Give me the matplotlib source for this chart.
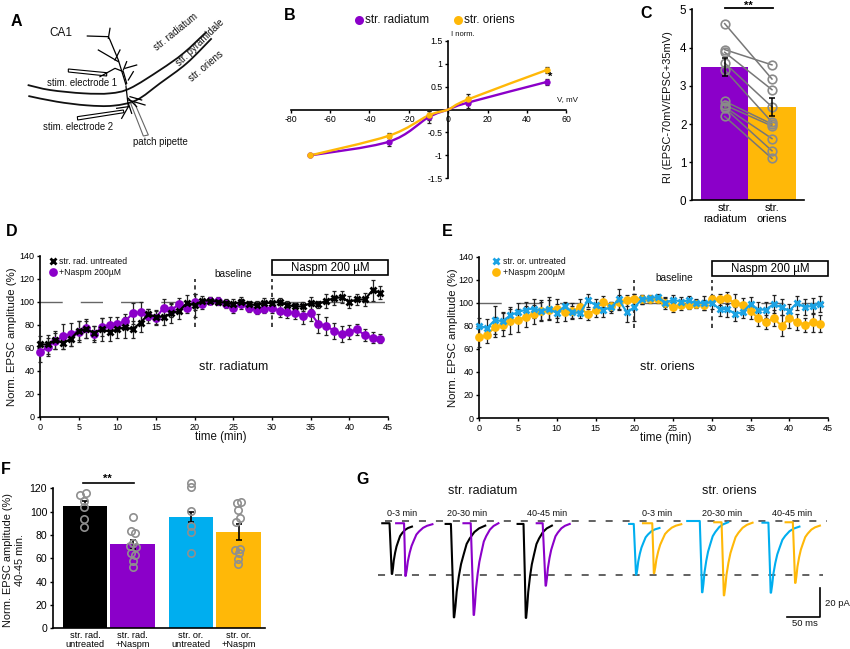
import matplotlib
matplotlib.use("Agg")
import matplotlib.pyplot as plt
from matplotlib.path import Path
from matplotlib.patches import PathPatch, Polygon, Rectangle

plt.rcParams['font.family'] = ['Liberation Sans', 'DejaVu Sans']
plt.rcParams['axes.linewidth'] = 1.2
plt.rcParams['axes.unicode_minus'] = False

W, H = 850, 649
PURPLE = '#8B00C9'
YELLOW = '#FFB808'
BLUE = '#00AEEF'
XBLUE = '#1CA3E4'
GRAY = '#808080'

# ---- panel B
iv_v = [-70, -30, -10, 0, 10, 50]
iv_rad = [-1.0, -0.70, -0.17, 0.0, 0.15, 0.60]
iv_or = [-1.0, -0.57, -0.13, 0.0, 0.22, 0.86]
iv_rad_err = [0.02, 0.10, 0.13, 0.0, 0.12, 0.07]
iv_or_err = [0.02, 0.06, 0.10, 0.0, 0.12, 0.07]

# ---- panel C
ri_rad = [4.63, 3.95, 3.88, 3.60, 3.42, 2.60, 2.50, 2.45, 2.42, 2.20]
ri_or = [3.18, 3.55, 2.90, 2.45, 2.05, 2.00, 1.95, 1.62, 1.30, 1.10]
ri_means = [3.5, 2.45]
ri_errs = [0.23, 0.23]
ri_labels = ['str.\nradiatum', 'str.\noriens']

# ---- panels D, E
minutes = list(range(45))
d_naspm = [56, 61, 66, 70, 72, 74, 77, 72, 78, 80, 81, 83, 90, 91, 88, 86, 95, 93, 98, 95, 100, 98, 101, 101, 98,
           95, 98, 95, 93, 94, 95, 92, 91, 90, 88, 90, 81, 79, 75, 72, 74, 76, 71, 69, 68]
d_naspm_err = [8, 8, 7, 11, 10, 9, 8, 7, 8, 7, 6, 6, 9, 9, 6, 6, 7, 6, 5, 5, 7, 4, 3, 3, 3,
               5, 4, 4, 4, 4, 5, 5, 5, 5, 7, 7, 8, 8, 7, 7, 6, 5, 5, 5, 4]
d_ctrl = [63, 63, 67, 64, 68, 75, 76, 73, 76, 74, 76, 78, 76, 82, 89, 87, 87, 90, 92, 99, 97, 101, 101, 100, 99,
          98, 100, 98, 97, 99, 99, 100, 97, 96, 96, 99, 98, 101, 103, 104, 100, 102, 102, 110, 108]
d_ctrl_err = [7, 8, 8, 5, 6, 8, 7, 6, 10, 8, 7, 9, 7, 8, 5, 6, 7, 8, 7, 7, 10, 4, 3, 3, 3,
              4, 4, 3, 4, 4, 4, 3, 4, 3, 4, 5, 3, 6, 6, 5, 5, 5, 6, 9, 6]
e_naspm = [70, 72, 79, 81, 84, 85, 88, 90, 93, 94, 95, 92, 93, 96, 90, 94, 101, 97, 101, 102, 103, 103, 103, 103, 100,
           96, 98, 98, 99, 98, 103, 103, 104, 99.5, 98, 93, 86.5, 83.6, 86.5, 80, 86.5, 83.6, 81, 83, 82]
e_naspm_err = [8, 7, 9, 10, 11, 10, 9, 8, 8, 8, 8, 8, 7, 7, 5, 6, 5, 4, 6, 5, 5, 4, 3, 3, 4,
               4, 4, 3, 3, 4, 4, 5, 5, 8, 6, 7, 7, 6, 7, 9, 8, 7, 6, 8, 7]
e_ctrl = [80, 78, 85, 84, 89, 92, 94, 95, 93, 95, 91, 97, 92, 91, 102, 98, 94, 96, 103, 92, 96, 103, 104, 105, 100,
          102.7, 101, 102, 99.5, 100, 100, 94.6, 94.6, 90.5, 91.7, 99, 94, 94, 99, 96, 93, 100, 96, 97.5, 99]
e_ctrl_err = [7, 8, 12, 8, 7, 8, 7, 8, 9, 10, 8, 4, 5, 4, 6, 5, 6, 5, 9, 9, 12, 4, 3, 3, 5,
              4, 4, 4, 4, 6, 5, 6, 7, 6, 5, 6, 7, 7, 8, 7, 6, 6, 7, 7, 7]

# ---- panel F
f_labels = ['str. rad.\nuntreated', 'str. rad.\n+Naspm', 'str. or.\nuntreated', 'str. or.\n+Naspm']
f_pos = [0, 1, 2.22, 3.22]
f_means = [104.5, 72, 95.4, 82.5]
f_errs = [5, 4, 4, 6.5]
f_colors = ['black', PURPLE, BLUE, YELLOW]
f_pts = [[114.3, 116.3, 109, 103.7, 93.4, 86.6],
         [95.7, 83.4, 81.4, 73.4, 70.6, 70, 64.9, 62.9, 58, 52.3],
         [124.3, 120.9, 100.3, 87.7, 82.9, 64.3],
         [107, 108.3, 101.4, 94.3, 91.4, 67.1, 68.3, 64.3, 59.4, 55.1]]
f_jit = [[-0.10, 0.02, -0.02, -0.02, -0.02, -0.02],
         [0, -0.03, 0.05, 0, -0.05, 0.07, -0.04, 0.05, 0, 0],
         [0, 0, 0, 0, 0, 0],
         [-0.04, 0.06, -0.01, 0.04, -0.06, -0.07, 0.03, 0, -0.02, -0.02]]

# ---- panel G (ms, pA): start, onset, peak, end, baseline, peak amplitude, tail end
g_traces = [
    (11, 22, 26, 56, -1.4, -37.6, -3.8, 'black'),
    (32, 44, 46.5, 87, -1.4, -39.0, -2.1, PURPLE),
    (107, 115, 120, 167, -1.9, -68.6, -3.1, 'black'),
    (134, 145, 150, 187, -1.4, -66.9, -1.4, PURPLE),
    (216, 225, 229, 268, -1.9, -69.0, -3.1, 'black'),
    (245, 254, 259, 295, -1.4, -46.0, -1.9, PURPLE),
    (385, 392, 396, 431, -1.9, -38.1, -4.8, BLUE),
    (406, 420, 423, 464, -1.4, -37.1, -2.1, YELLOW),
    (473, 492, 496, 535, 0.2, -50.7, -0.7, BLUE),
    (514, 525, 529, 572, -0.7, -52.9, -1.0, YELLOW),
    (587, 596, 600, 643, -1.0, -51.0, -3.8, BLUE),
    (622, 633, 637, 674, -0.7, -44.0, -3.1, YELLOW),
]
decay_t = [0, .04, .08, .15, .22, .30, .40, .50, .65, .80, 1]
decay_f = [1, .88, .72, .55, .42, .32, .20, .14, .07, .03, 0]
g_level = -38.6


def smooth(xs, ys):
    """Catmull-Rom curve through the read points."""
    pts = list(zip(xs, ys))
    verts = [pts[0]]
    codes = [Path.MOVETO]
    for i in range(len(pts) - 1):
        p0 = pts[max(i - 1, 0)]
        p1, p2 = pts[i], pts[i + 1]
        p3 = pts[min(i + 2, len(pts) - 1)]
        verts += [(p1[0] + (p2[0] - p0[0]) / 6, p1[1] + (p2[1] - p0[1]) / 6),
                  (p2[0] - (p3[0] - p1[0]) / 6, p2[1] - (p3[1] - p1[1]) / 6), p2]
        codes += [Path.CURVE4] * 3
    return Path(verts, codes)


fig = plt.figure(figsize=(W / 100, H / 100), dpi=100, facecolor='white')


def axpx(l, t, r, b):
    a = fig.add_axes([l / W, 1 - b / H, (r - l) / W, (b - t) / H])
    a.patch.set_alpha(0)
    return a


ov = fig.add_axes([0, 0, 1, 1], zorder=10)
ov.set_xlim(0, W)
ov.set_ylim(H, 0)
ov.axis('off')


def T(x, y, s, size=7, ha='center', va='center', **k):
    ov.text(x, y, s, fontsize=size, ha=ha, va=va, color=k.pop('color', '#111111'), **k)


for s, x, y in [('A', 16, 21), ('B', 290, 15), ('C', 646, 13), ('D', 12, 231),
                ('E', 447, 231), ('F', 6, 470), ('G', 363, 479)]:
    T(x, y, s, size=11.5, fontweight='bold', color='black')

# ---- A : schematic, drawn in zoomed pixel units / 3
def z(seq):
    return [(a / 3, b / 3) for a, b in seq]


for c in ([(83, 255), (150, 270), (250, 280), (330, 280), (390, 265), (480, 210), (550, 160), (620, 95)],
          [(85, 288), (170, 305), (260, 316), (340, 317), (410, 300), (480, 250), (560, 190), (635, 115)]):
    q = z(c)
    ov.add_patch(PathPatch(smooth([p[0] for p in q], [p[1] for p in q]), fc='none', ec='#111111', lw=1.3))
branches = [[(378, 255), (355, 180), (330, 120), (325, 110), (262, 108)], [(325, 115), (330, 85)],
            [(355, 185), (295, 150)], [(345, 180), (360, 150)], [(380, 250), (370, 215), (345, 205), (300, 230)],
            [(370, 210), (380, 185)], [(375, 205), (410, 195)], [(385, 240), (400, 215)],
            [(378, 260), (385, 320), (365, 355)], [(385, 300), (435, 315)], [(390, 290), (425, 300)],
            [(385, 320), (350, 325)], [(385, 310), (395, 340)], [(385, 295), (410, 320)]]
for b in branches:
    q = z(b)
    ov.plot([p[0] for p in q], [p[1] for p in q], color='black', lw=0.9)
ov.add_patch(Polygon(z([(205, 207), (320, 218), (320, 228), (205, 216)]), fc='white', ec='black', lw=0.8))
ov.add_patch(Polygon(z([(232, 350), (370, 330), (372, 338), (233, 360)]), fc='white', ec='black', lw=0.8))
ov.add_patch(Polygon(z([(392, 310), (430, 408), (445, 405), (402, 305)]), fc='white', ec='#666666', lw=0.8))
T(61, 33, 'CA1', 8.5)
T(82, 83, 'stim. electrode 1', 6.9)
T(78, 127, 'stim. electrode 2', 6.9)
T(160, 142, 'patch pipette', 6.9)
T(176, 32, 'str. radiatum', 6.9, rotation=39)
T(200, 43, 'str. pyramidale', 6.9, rotation=44)
T(206, 66, 'str. oriens', 6.9, rotation=40)

# ---- B
ax = axpx(290.7, 40.7, 566.3, 178.3)
ax.set_xlim(-80, 60)
ax.set_ylim(-1.5, 1.5)
for s in ('top', 'right'):
    ax.spines[s].set_visible(False)
ax.spines['left'].set_position('zero')
ax.spines['bottom'].set_position('zero')
ax.set_xticks([-80, -60, -40, -20, 0, 20, 40, 60])
ax.set_yticks([-1.5, -1, -0.5, 0.5, 1, 1.5])
ax.set_yticklabels(['-1.5', '-1', '-0.5', '0.5', '1', '1.5'])
ax.tick_params(labelsize=6.3, length=2.5, width=1, pad=1.5)
for vals, errs, col in ((iv_rad, iv_rad_err, PURPLE), (iv_or, iv_or_err, YELLOW)):
    ax.add_patch(PathPatch(smooth(iv_v, vals), fc='none', ec=col, lw=1.7, zorder=3))
    ms = [i for i, v in enumerate(iv_v) if v != 0]
    ax.errorbar([iv_v[i] for i in ms], [vals[i] for i in ms], yerr=[errs[i] for i in ms], fmt='none',
                ecolor='#222222', elinewidth=0.9, capsize=1.5, capthick=0.9, zorder=4)
    ax.plot([iv_v[i] for i in ms], [vals[i] for i in ms], 'o', color=col, ms=4.6, mew=0, zorder=5)
T(550, 77, '*', 8, fontweight='bold', color='black')
T(463, 35, 'I norm.', 5.5)
T(568, 100, 'V, mV', 5.8)
ov.plot([359], [20], 'o', color=PURPLE, ms=6.5, mew=0)
ov.plot([458], [20], 'o', color=YELLOW, ms=6.5, mew=0)
T(365, 20, 'str. radiatum', 8.4, ha='left')
T(464, 20, 'str. oriens', 8.4, ha='left')

# ---- C
ax = axpx(692, 9.5, 804.3, 200.5)
ax.set_xlim(-0.691, 1.683)
ax.set_ylim(0, 5)
for s in ('top', 'right'):
    ax.spines[s].set_visible(False)
ax.bar([0, 1], ri_means, width=1, color=[PURPLE, YELLOW], zorder=1)
for a, b in zip(ri_rad, ri_or):
    ax.plot([0, 1], [a, b], '-', color='#777777', lw=1.1, zorder=2)
ax.plot([0] * len(ri_rad), ri_rad, 'o', mfc='none', mec='#8a8a8a', ms=6.2, mew=1.2, zorder=3)
ax.plot([1] * len(ri_or), ri_or, 'o', mfc='none', mec='#8a8a8a', ms=6.2, mew=1.2, zorder=3)
ax.errorbar([0, 1], ri_means, yerr=ri_errs, fmt='none', ecolor='black', elinewidth=1.1, capsize=2.5,
            capthick=1.1, zorder=4)
ax.plot([0, 1.03], [5.05, 5.05], color='black', lw=1.3, clip_on=False)
ax.set_xticks([0, 1])
ax.set_xticklabels(ri_labels, fontsize=8, linespacing=1.05)
ax.set_yticks(range(6))
ax.tick_params(axis='y', labelsize=8.4, length=2.5, width=1, pad=1.5)
ax.tick_params(axis='x', length=0, pad=2)
T(748, 5.5, '**', 8, fontweight='bold', color='black')
T(667.7, 107, 'RI (EPSC-70mV/EPSC+35mV)', 7.9, rotation=90)


# ---- D, E
def timecourse(box, a_vals, a_err, a_col, b_vals, b_err, b_col, b_mcol):
    ax = axpx(*box)
    ax.set_xlim(0, 45)
    ax.set_ylim(0, 140)
    for s in ('top', 'right'):
        ax.spines[s].set_visible(False)
    ax.axhline(100, color='#666666', lw=1, ls=(0, (16, 13)), zorder=1)
    ax.plot([20, 20], [78, 120], color='#222222', lw=1.2, ls=(0, (2.5, 2)), zorder=2)
    ax.plot([30, 30], [78, 120], color='#222222', lw=1.2, ls=(0, (2.5, 2)), zorder=2)
    ax.errorbar(minutes, a_vals, yerr=a_err, fmt='none', ecolor='#222222', elinewidth=0.9, capsize=1.5,
                capthick=0.9, zorder=3, clip_on=False)
    ax.errorbar(minutes, b_vals, yerr=b_err, fmt='none', ecolor='#222222', elinewidth=0.9, capsize=1.5,
                capthick=0.9, zorder=3, clip_on=False)
    ax.plot(minutes, a_vals, '-o', color=a_col, lw=1.5, ms=6.3, mew=0, zorder=4, clip_on=False)
    ax.plot(minutes, b_vals, '-', color=b_col, lw=1.5, zorder=5)
    ax.plot(minutes, b_vals, 'x', color=b_mcol, ms=4.5, mew=2, zorder=6, clip_on=False)
    ax.add_patch(Rectangle((30, 123), 15, 13.5, fc='white', ec='black', lw=1.2, zorder=7, clip_on=False))
    ax.text(37.5, 129.7, 'Naspm 200 µM', fontsize=8.3, ha='center', va='center', zorder=8)
    ax.set_xticks(range(0, 46, 5))
    ax.set_yticks(range(0, 141, 20))
    ax.tick_params(labelsize=6.5, length=2.5, width=1, pad=1.5)
    return ax


timecourse((40, 255.7, 388, 417), d_naspm, d_naspm_err, PURPLE, d_ctrl, d_ctrl_err, 'black', 'black')
timecourse((479.3, 256.7, 828, 418), e_naspm, e_naspm_err, YELLOW, e_ctrl, e_ctrl_err, XBLUE, XBLUE)

T(12, 337, 'Norm. EPSC amplitude (%)', 8.2, rotation=90)
T(453, 338, 'Norm. EPSC amplitude (%)', 8.2, rotation=90)
T(221, 437, 'time (min)', 8.3)
T(666, 438, 'time (min)', 8.3)
T(233, 274, 'baseline', 7.3)
T(674, 277.7, 'baseline', 7.3)
T(234, 367, 'str. radiatum', 9)
T(667, 367, 'str. oriens', 9)
ov.plot([53.3], [261], 'x', color='black', ms=4.5, mew=2)
ov.plot([53.3], [272.3], 'o', color=PURPLE, ms=6.3, mew=0)
T(59.3, 261, 'str. rad. untreated', 6.2, ha='left')
T(59.3, 272.3, '+Naspm 200µM', 6.2, ha='left')
ov.plot([496.3], [261], 'x', color=XBLUE, ms=4.5, mew=2)
ov.plot([496.3], [272.3], 'o', color=YELLOW, ms=6.3, mew=0)
T(502.7, 261, 'str. or. untreated', 6.2, ha='left')
T(502.7, 272.3, '+Naspm 200µM', 6.2, ha='left')

# ---- F
ax = axpx(52.7, 488.3, 265, 628.3)
ax.set_xlim(-0.677, 3.774)
ax.set_ylim(0, 120)
for s in ('top', 'right'):
    ax.spines[s].set_visible(False)
ax.bar(f_pos, f_means, width=0.935, color=f_colors, zorder=1)
ax.errorbar(f_pos, f_means, yerr=f_errs, fmt='none', ecolor='black', elinewidth=1.2, capsize=2,
            capthick=1.2, zorder=2)
for p, vals, jit in zip(f_pos, f_pts, f_jit):
    ax.plot([p + j for j in jit], vals, 'o', mfc='none', mec='#8f8f8f', ms=5.3, mew=1.2, zorder=3, clip_on=False)
ax.plot([-0.05, 1.03], [124.4, 124.4], color='black', lw=1.2, clip_on=False)
ax.set_xticks(f_pos)
ax.set_xticklabels(f_labels, fontsize=6.6, linespacing=1.0)
ax.set_yticks(range(0, 121, 20))
ax.tick_params(axis='y', labelsize=7.6, length=2.5, width=1, pad=1.5)
ax.tick_params(axis='x', length=0, pad=2)
T(107, 479, '**', 8, fontweight='bold', color='black')
T(14, 560, 'Norm. EPSC amplitude (%)\n40-45 min.', 7.9, rotation=90, linespacing=1.2)

# ---- G
ax = axpx(375, 500, 850, 640)
ax.set_xlim(0, 719.6)
ax.set_ylim(-84.8, 15.2)
ax.axis('off')
ax.plot([15, 685], [0, 0], color='#555555', lw=1.3, ls=(0, (3.9, 5.5)), zorder=1)
ax.plot([4.5, 678], [g_level, g_level], color='#555555', lw=1.3, ls=(0, (3.9, 5.5)), zorder=1)
for t0, on, pk, end, base, amp, tail, col in g_traces:
    xs = [t0, on, (on + pk) / 2, pk - 0.6]
    ys = [base, base, (base + amp) / 2 - 3, amp]
    for f, v in zip(decay_t, decay_f):
        xs.append(pk + f * (end - pk))
        ys.append(tail + v * (amp - tail))
    ax.plot(xs, ys, color=col, lw=1.5, solid_joinstyle='round', zorder=3)
ax.plot([624, 674, 674], [-68.3, -68.3, -47.6], color='black', lw=1.2, zorder=3)
T(825, 603, '20 pA', 6.8, ha='left')
T(805, 623, '50 ms', 6.8)
T(483, 491, 'str. radiatum', 9)
T(729, 491, 'str. oriens', 9)
for x, s in [(402, '0-3 min'), (467, '20-30 min'), (547, '40-45 min'),
             (657, '0-3 min'), (722, '20-30 min'), (792, '40-45 min')]:
    T(x, 513, s, 6.5)

fig.savefig('out.png', dpi=100)
